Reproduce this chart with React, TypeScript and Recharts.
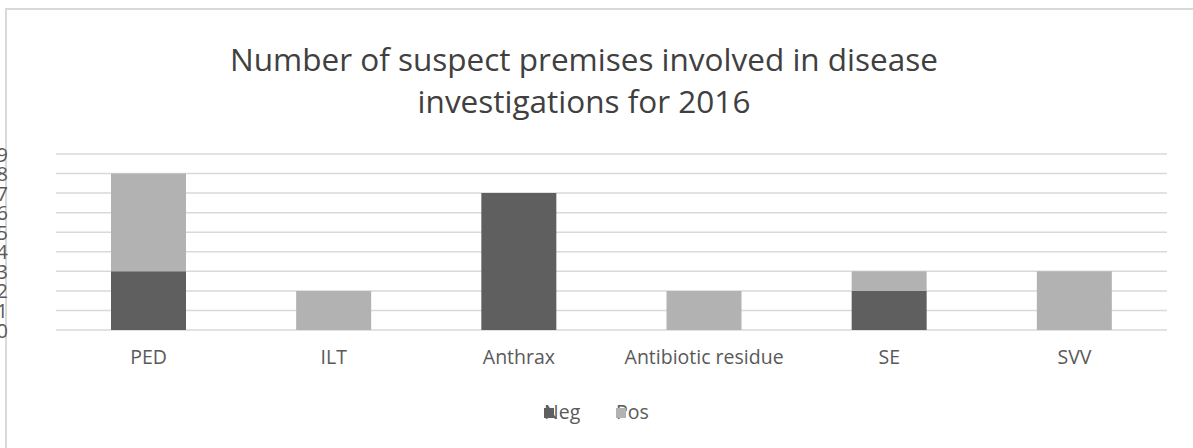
import React from "react";
import { Bar, BarChart, CartesianGrid, XAxis, YAxis } from "recharts";

const categories = ["PED", "ILT", "Anthrax", "Antibiotic residue", "SE", "SVV"];
const negValues = [3, 0, 7, 0, 2, 0];
const posValues = [5, 2, 0, 2, 1, 3];
const yTicks = [0, 1, 2, 3, 4, 5, 6, 7, 8, 9];

const NEG = "#5f5f5f";
const POS = "#b2b2b2";
const GRID = "#d9d9d9";
const FONT = "'Open Sans', 'Noto Sans', sans-serif";

const rows = categories.map((name, i) => ({
  name,
  Neg: negValues[i] || null,
  Pos: posValues[i] || null,
}));

const legendItems = [
  { label: "Neg", color: NEG, left: 544 },
  { label: "Pos", color: POS, left: 616 },
];

function YTick({ y, payload }: any) {
  return (
    <text x={8} y={y} textAnchor="end" dominantBaseline="central" fontSize={20} fill="#595959" fontFamily={FONT}>
      {payload.value}
    </text>
  );
}

export default function App() {
  return (
    <div style={{ position: "absolute", left: 0, top: 0, width: 1193, height: 448, overflow: "hidden", background: "#fff" }}>
      <div style={{ position: "absolute", left: 5, top: 8, width: 1300, height: 600, border: `2px solid ${GRID}`, boxSizing: "border-box" }} />
      <div style={{ position: "absolute", left: 0, top: 38, width: 1168, textAlign: "center", fontFamily: FONT, fontSize: 31.5, lineHeight: "42px", color: "#404040" }}>
        Number of suspect premises involved in disease
        <br />
        investigations for 2016
      </div>
      <BarChart width={1193} height={448} data={rows} margin={{ top: 154, right: 26, bottom: 88, left: 0 }} barSize={75}>
        <CartesianGrid vertical={false} stroke={GRID} strokeWidth={1.5} />
        <XAxis dataKey="name" axisLine={false} tickLine={false} height={30} tick={{ fontSize: 19.5, fill: "#595959", fontFamily: FONT }} tickMargin={14} />
        <YAxis width={56} domain={[0, 9]} ticks={yTicks} axisLine={false} tickLine={false} tick={<YTick />} interval={0} />
        <Bar dataKey="Neg" stackId="a" fill={NEG} isAnimationActive={false} />
        <Bar dataKey="Pos" stackId="a" fill={POS} isAnimationActive={false} />
      </BarChart>
      {legendItems.map((it) => (
        <div key={it.label} style={{ position: "absolute", left: it.left, top: 398, fontFamily: FONT, fontSize: 19.5, lineHeight: "28px", color: "#595959" }}>
          {it.label}
          <span style={{ position: "absolute", left: 0, top: 10, width: 10, height: 10, background: it.color }} />
        </div>
      ))}
    </div>
  );
}
